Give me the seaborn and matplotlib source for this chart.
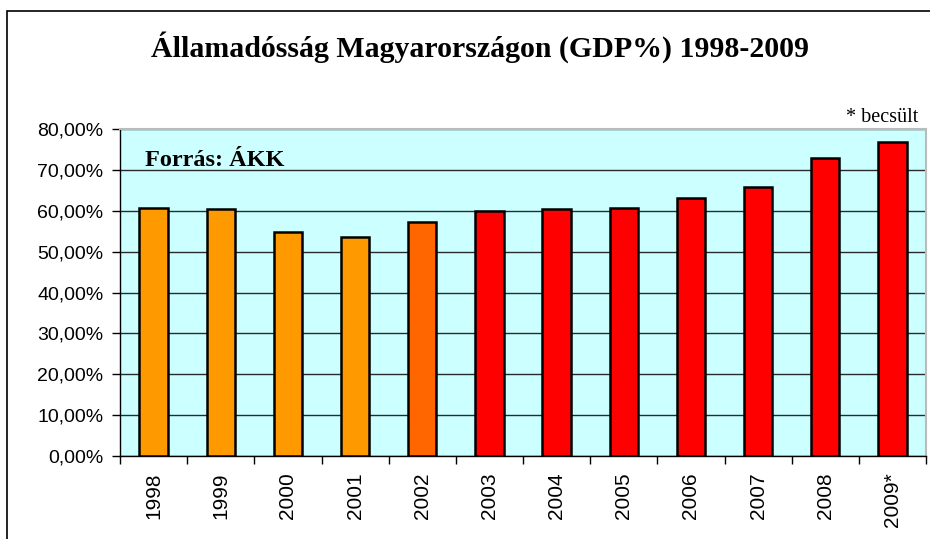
""" Államadósság Magyarországon (GDP%) 1998-2009 - oszlopdiagram """

from matplotlib import pyplot as plt
from matplotlib.patches import Rectangle
from matplotlib.ticker import FuncFormatter, FixedLocator
import seaborn as sb
import pandas as pd
import numpy as np

years = ["1998", "1999", "2000", "2001", "2002", "2003",
         "2004", "2005", "2006", "2007", "2008", "2009*"]
debt = [60.8, 60.4, 54.9, 53.5, 57.4, 59.9, 60.4, 60.8, 63.2, 65.8, 73.0, 77.0]
colors = ["#FF9900"] * 4 + ["#FF6600"] + ["#FF0000"] * 7

title = "Államadósság Magyarországon (GDP%) 1998-2009"
source = "Forrás: ÁKK"
note = "* becsült"

df = pd.DataFrame({"ev": years, "adossag": debt})

sb.set_theme(style="white")
plt.rcParams["font.family"] = ["Liberation Sans", "DejaVu Sans"]
plt.rcParams["text.color"] = "black"
plt.rcParams["xtick.color"] = "black"
plt.rcParams["ytick.color"] = "black"
plt.rcParams["xtick.labelcolor"] = "black"
plt.rcParams["ytick.labelcolor"] = "black"

fig = plt.figure(figsize=(9.3, 5.39), dpi=100)
ax = fig.add_axes([120 / 930, 1 - 455.7 / 539, 806 / 930, 326.4 / 539])
ax.set_facecolor("#CCFFFF")

sb.barplot(data=df, x="ev", y="adossag", hue="ev", palette=colors,
           legend=False, width=0.42, edgecolor="black", linewidth=1.8,
           saturation=1, ax=ax, zorder=3)

ax.set_ylim(0, 80)
ax.set_xlim(-0.5, len(years) - 0.5)
ax.set_yticks(np.arange(0, 81, 10))
ax.yaxis.set_major_formatter(FuncFormatter(lambda v, p: ("%.2f%%" % v).replace(".", ",")))
ax.grid(axis="y", color="#2A2A2A", linewidth=1, zorder=1)
ax.set_axisbelow(True)

# Excel-stílusú osztásjelek a kategóriák határán
ax.xaxis.set_minor_locator(FixedLocator(np.arange(-0.5, len(years), 1)))
ax.tick_params(axis="x", which="major", length=0, labelsize=15, rotation=90, pad=12)
ax.tick_params(axis="x", which="minor", length=6, width=1, color="black", bottom=True)
ax.tick_params(axis="y", length=6, width=1, color="black", left=True, labelsize=14, pad=6)
ax.set_xlabel("")
ax.set_ylabel("")

for side in ["top", "right"]:
    ax.spines[side].set_color("#BBBBBB")
    ax.spines[side].set_linewidth(1.5)
for side in ["left", "bottom"]:
    ax.spines[side].set_color("black")
    ax.spines[side].set_linewidth(1)

ax.text(0.031, 0.905, source, transform=ax.transAxes, fontsize=17.5,
        fontweight="bold", family="Liberation Serif", va="center", ha="left")
fig.text(918 / 930, 1 - 117 / 539, note, fontsize=14.5, family="Liberation Serif",
         ha="right", va="center")
fig.text(480 / 930, 1 - 47 / 539, title, fontsize=21.5, fontweight="bold",
         family="Liberation Serif", ha="center", va="center")

# a diagram keretje
fig.patches.append(Rectangle((7 / 930, -0.1), 1.2, 1.1 - 11 / 539,
                             transform=fig.transFigure, fill=False,
                             edgecolor="black", linewidth=1.2))

fig.savefig("out.png", dpi=100)
